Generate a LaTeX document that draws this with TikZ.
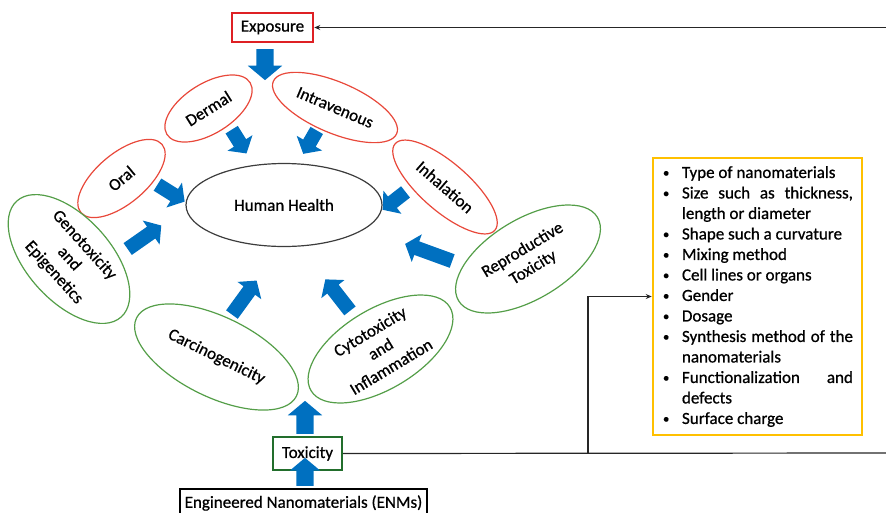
\documentclass[tikz,border=0pt]{standalone}
\usepackage{fontspec}
\setmainfont{Carlito}[FakeBold=0.8]
\usetikzlibrary{shapes.geometric,shapes.arrows,arrows.meta}

\definecolor{routered}{RGB}{232,72,58}
\definecolor{boxred}{RGB}{222,32,36}
\definecolor{effgreen}{RGB}{84,158,72}
\definecolor{toxgreen}{RGB}{34,110,44}
\definecolor{flowblue}{RGB}{0,112,192}
\definecolor{factorgold}{RGB}{255,192,0}
\definecolor{inkgray}{RGB}{60,60,60}

% one bullet entry of the factor list, with hanging indent
\newcommand{\factoritem}[1]{\par\hangindent=20pt\hangafter=1\noindent\makebox[20pt][l]{\hspace{1pt}\raisebox{1pt}{\scalebox{0.75}{\textbullet}}}#1}

\begin{document}
\begin{tikzpicture}[x=1pt,y=-1pt,
  every node/.style={font=\fontsize{17}{20.5}\selectfont, text=black},
  route/.style={ellipse, draw=routered, line width=1.2pt, inner sep=0pt, align=center},
  effect/.style={ellipse, draw=effgreen, line width=1.2pt, inner sep=0pt, align=center},
  % block arrows: shaft width = 2 x inner ysep, head width = shaft + 2 x head extend
  flowbig/.style={single arrow, fill=flowblue, draw=none, inner xsep=0pt, inner ysep=8.5pt,
    single arrow head extend=8.5pt, single arrow tip angle=100},
  flowsmall/.style={single arrow, fill=flowblue, draw=none, inner xsep=0pt, inner ysep=7pt,
    single arrow head extend=7.5pt, single arrow tip angle=100},
  link/.style={draw=black!85, line width=1.2pt}
]
\useasboundingbox (0,0) rectangle (886,512);

% central outcome
\node[ellipse, draw=inkgray, line width=1.2pt, inner sep=0pt,
  minimum width=196pt, minimum height=83pt] (hh) at (284,205) {Human Health};

% exposure routes
\node[route, minimum width=98pt,  minimum height=50pt, rotate=32]  (dermal) at (208.5,108.5) {Dermal};
\node[route, minimum width=134pt, minimum height=51pt, rotate=-23] (iv)     at (335,107.5)   {Intravenous};
\node[route, minimum width=132pt, minimum height=48pt, rotate=-41] (inhal)  at (445,187)     {Inhalation};
\node[route, minimum width=106pt, minimum height=50pt, rotate=40]  (oral)   at (121.5,178.5) {Oral};

% toxic effects
\node[effect, minimum width=156pt, minimum height=84pt, rotate=-48] (geno)  at (69,259)     {Genotoxicity\\and\\Epigenetics};
\node[effect, minimum width=178pt, minimum height=80pt, rotate=-26] (carc)  at (216.5,357)  {Carcinogenicity};
\node[effect, minimum width=162pt, minimum height=80pt, rotate=31]  (cyto)  at (380.5,349)  {Cytotoxicity\\and\\Inflammation};
\node[effect, minimum width=162pt, minimum height=80pt, rotate=31]  (repro) at (528,259)    {Reproductive\\Toxicity};

% boxes
\node[draw=boxred, line width=2.5pt, minimum width=81pt, minimum height=29pt, inner sep=0pt]
  (exposure) at (272.5,27.5) {Exposure};
\node[draw=toxgreen, line width=2.2pt, minimum width=69pt, minimum height=33pt, inner sep=0pt]
  (tox) at (307.5,453.5) {Toxicity};
\node[draw=black, line width=2.5pt, minimum width=247pt, minimum height=28pt, inner sep=0pt]
  (enm) at (303.5,503) {Engineered Nanomaterials (ENMs)};

\node[draw=factorgold, line width=2.5pt, inner sep=0pt, minimum width=209pt, minimum height=277pt]
  (factors) at (757.5,296.5) {\parbox[c]{191pt}{\fontsize{17}{20.5}\selectfont\hyphenpenalty=10000
    \factoritem{Type of nanomaterials}
    \factoritem{Size such as thickness,\linebreak length or diameter}
    \factoritem{Shape such a curvature}
    \factoritem{Mixing method}
    \factoritem{Cell lines or organs}
    \factoritem{Gender}
    \factoritem{Dosage}
    \factoritem{Synthesis method of the\linebreak nanomaterials}
    \factoritem{Functionalization and\linebreak defects}
    \factoritem{Surface charge}}};

% thin connectors
\coordinate (topin) at (886,27.5);
\coordinate (toxout) at (886,453);
\coordinate (branch) at (588,453);
\draw[link, -{Stealth[length=6pt,width=5pt]}] (topin) -- (exposure.east);
\draw[link] (tox.east) -- (toxout);
\draw[link, -{Stealth[length=6pt,width=5pt]}] (branch) |- (factors.west);

% block arrows
\node[flowbig, minimum height=31pt, rotate=-90] (aexp) at (265,61) {};
\node[flowsmall, minimum height=28pt, rotate=-58]  (aderm)  at (237.5,139) {};
\node[flowsmall, minimum height=27pt, rotate=-120] (aiv)    at (311.5,139.5) {};
\node[flowsmall, minimum height=32pt, rotate=-32]  (aoral)  at (168.5,191.5) {};
\node[flowsmall, minimum height=29pt, rotate=-142] (ainhal) at (396.5,199) {};
\node[flowsmall, minimum height=41pt, rotate=35]   (ageno)  at (142,239) {};
\node[flowsmall, minimum height=50pt, rotate=160]  (arepro) at (431.5,253.5) {};
\node[flowsmall, minimum height=42pt, rotate=54]   (acarc)  at (242.5,300) {};
\node[flowsmall, minimum height=40pt, rotate=128]  (acyto)  at (339.5,297.5) {};
\node[flowbig, minimum height=33pt, rotate=90] (atox) at (305,421) {};
\node[flowbig, single arrow head extend=6.5pt, minimum height=28pt, rotate=90] (aenm) at (305,475.5) {};
\end{tikzpicture}
\end{document}
